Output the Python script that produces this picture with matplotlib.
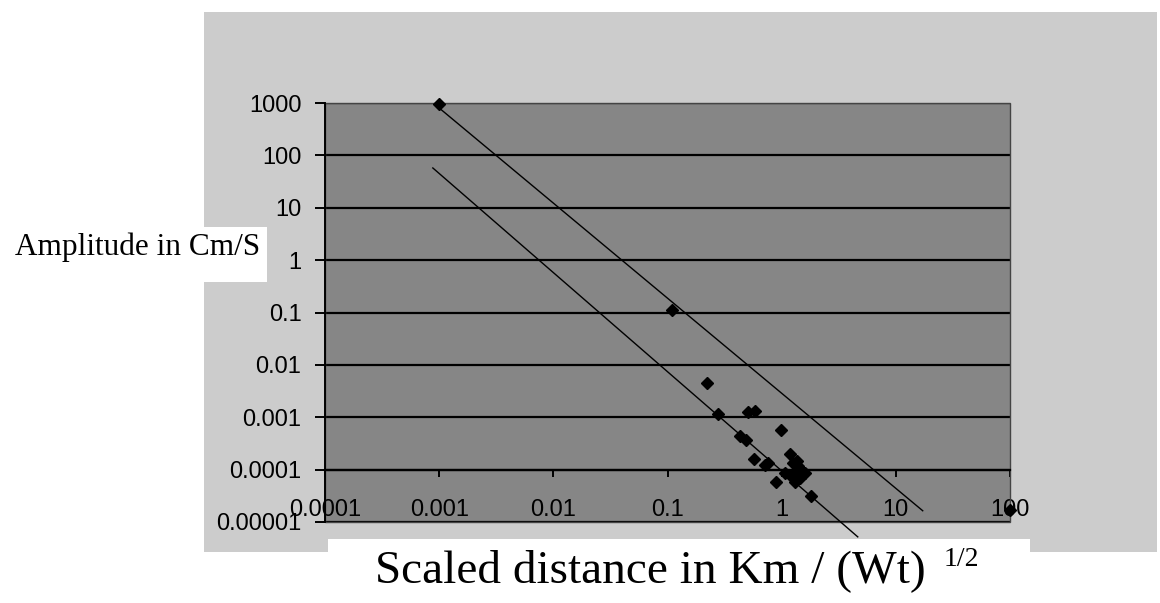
import matplotlib
matplotlib.use("Agg")
import matplotlib.pyplot as plt
from matplotlib.patches import Rectangle

W, H = 1160, 603

# measured points (scaled distance, amplitude)
dist = [0.001, 0.109, 0.223, 0.278, 0.506, 0.582, 0.984, 0.431, 0.487,
        0.572, 0.713, 0.757, 1.18, 1.26, 1.40, 1.54, 1.35, 1.18, 1.07,
        1.44, 1.31, 1.60, 1.35, 0.885, 1.80, 100]
amp = [950, 0.112, 0.00448, 0.00116, 0.00127, 0.00132, 0.000575, 0.000442,
       0.000371, 0.000161, 0.000124, 0.000135, 0.0002, 0.000133, 0.000115,
       9.2e-5, 8.6e-5, 7.96e-5, 8.6e-5, 6.9e-5, 5.9e-5, 8.6e-5, 0.000143,
       5.7e-5, 3.07e-5, 1.71e-5]

# upper and lower bound lines
upper_x = [0.001, 17.2]
upper_y = [803, 1.64e-5]
lower_x = [0.00088, 4.64]
lower_y = [57.5, 5.2e-6]

xticks = [0.0001, 0.001, 0.01, 0.1, 1, 10, 100]
xtick_labels = ["0.0001", "0.001", "0.01", "0.1", "1", "10", "100"]
yticks = [0.00001, 0.0001, 0.001, 0.01, 0.1, 1, 10, 100, 1000]
ytick_labels = ["0.00001", "0.0001", "0.001", "0.01", "0.1", "1", "10", "100", "1000"]


def fx(px):
    return px / W


def fy(py):
    return 1 - py / H


fig = plt.figure(figsize=(W / 100, H / 100), dpi=100)
fig.patch.set_facecolor("white")

# chart area boxes (Excel style)
fig.add_artist(Rectangle((fx(204), fy(552)), fx(1157) - fx(204), fy(12) - fy(552),
                         transform=fig.transFigure, fc="#cccccc", ec="none", zorder=0))
fig.add_artist(Rectangle((fx(328), 0), fx(1030) - fx(328), fy(539),
                         transform=fig.transFigure, fc="white", ec="none", zorder=0.5))
fig.add_artist(Rectangle((0, fy(282)), fx(267), fy(227) - fy(282),
                         transform=fig.transFigure, fc="white", ec="none", zorder=0.5))

ax = fig.add_axes([fx(325), fy(522), fx(1010) - fx(325), fy(103) - fy(522)])
ax.set_facecolor("#868686")
ax.set_xscale("log")
ax.set_yscale("log")
ax.set_xlim(0.0001, 100)
ax.set_ylim(0.00001, 1000)

ax.spines["top"].set_visible(False)
ax.spines["right"].set_visible(False)
ax.spines["bottom"].set_position(("data", 0.0001))
ax.spines["bottom"].set_color("black")
ax.spines["bottom"].set_linewidth(1.6)
ax.spines["left"].set_color("black")
ax.spines["left"].set_linewidth(1.4)

ax.set_xticks(xticks)
ax.set_xticklabels(xtick_labels, fontfamily="Liberation Sans", fontsize=17)
ax.set_yticks(yticks)
ax.set_yticklabels(ytick_labels, fontfamily="Liberation Sans", fontsize=17)
ax.minorticks_off()
ax.tick_params(axis="x", direction="out", length=5, width=1.4, pad=16)
ax.tick_params(axis="y", direction="out", length=7, width=1.4, pad=10)

ax.grid(True, axis="y", color="black", lw=1.6)
ax.set_axisbelow(True)

ax.add_patch(Rectangle((0, 0), 1, 1, transform=ax.transAxes, fill=False,
                       ec="#444444", lw=1, clip_on=False, zorder=1))

ax.plot(upper_x, upper_y, color="black", lw=1, clip_on=False, zorder=3)
ax.plot(lower_x, lower_y, color="black", lw=1, clip_on=False, zorder=3)
ax.plot(dist, amp, linestyle="none", marker="D", markersize=6,
        color="black", clip_on=False, zorder=4)

fig.text(fx(15), fy(255), "Amplitude in Cm/S", family="Liberation Serif",
         fontsize=22.5, va="baseline", ha="left")
fig.text(fx(375), fy(582), "Scaled distance in Km / (Wt)", family="Liberation Serif",
         fontsize=34, va="baseline", ha="left")
fig.text(fx(944), fy(566), "1/2", family="Liberation Serif",
         fontsize=20, va="baseline", ha="left")

fig.savefig("out.png", dpi=100)
